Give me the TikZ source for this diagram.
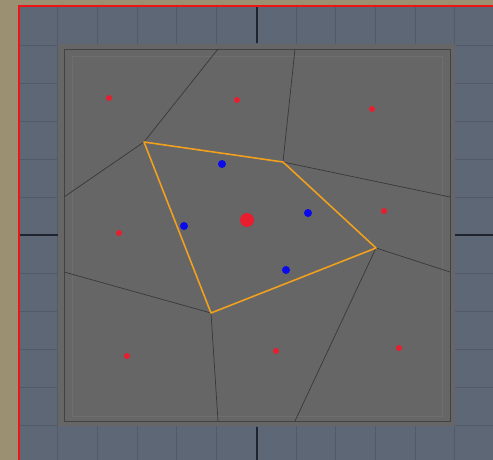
\documentclass[tikz,border=0pt]{standalone}
\usetikzlibrary{positioning}
\definecolor{vdTan}{RGB}{156,144,114}
\definecolor{vdGrid}{RGB}{94,103,118}
\definecolor{vdGridLine}{RGB}{82,90,104}
\definecolor{vdAxis}{RGB}{32,36,46}
\definecolor{vdFloor}{RGB}{102,102,102}
\definecolor{vdRim}{RGB}{66,66,66}
\definecolor{vdEdge}{RGB}{56,56,56}
\definecolor{vdCell}{RGB}{240,160,30}
\definecolor{vdSite}{RGB}{232,30,48}
\definecolor{vdSample}{RGB}{10,10,235}
\definecolor{vdFrame}{RGB}{236,20,20}

\begin{document}
\begin{tikzpicture}[
  x=1pt, y=-1pt,
  g/.style={draw=vdGridLine, line width=0.8pt},
  ax/.style={draw=vdAxis, line width=1.6pt},
  e/.style={draw=vdEdge, line width=0.7pt},
  o/.style={draw=vdCell, line width=1.6pt, line join=round},
  s/.style={circle, fill=vdSite, inner sep=0pt, minimum size=6pt},
  b/.style={circle, fill=vdSample, inner sep=0pt, minimum size=8pt},
  c/.style={circle, fill=vdSite, inner sep=0pt, minimum size=14pt}
]
\useasboundingbox (0,0) rectangle (493,460);
\fill[vdTan] (0,0) rectangle (493,460);
% grid plate
\fill[vdGrid] (19,6) rectangle (493,460);
\foreach \i in {1,...,11} \draw[g] ({18+39.7*\i},6) -- ++(0,454);
\foreach \j in {-5,...,5} \draw[g] (19,{235+38*\j}) -- ++(474,0);
% floor
\fill[vdFloor] (58,44) rectangle (455,426);
\draw[vdRim, line width=0.8pt] (64,49) rectangle (450,421);
\draw[vdFloor!95!white, line width=0.5pt] (72,56) rectangle (442,416);
% axes
\draw[ax] (257,6) -- (257,43);
\draw[ax] (257,427) -- (257,460);
\draw[ax] (19,235) -- (58,235);
\draw[ax] (455,235) -- (493,235);
\draw[vdFrame, line width=2pt] (19,6) rectangle (493.5,460.5);
% cell corners and border points
\coordinate (A) at (144,142);
\coordinate (B) at (283,162);
\coordinate (C) at (376,248);
\coordinate (D) at (211,313);
\coordinate (At) at (218,49);
\coordinate (Al) at (64,197);
\coordinate (Bt) at (295,49);
\coordinate (Br) at (450,197);
\coordinate (Cr) at (450,272);
\coordinate (Cb) at (295,421);
\coordinate (Db) at (218,421);
\coordinate (Dl) at (64,272);
\draw[e] (At) -- (A) -- (Al);
\draw[e] (Bt) -- (B) -- (Br);
\draw[e] (Cr) -- (C) -- (Cb);
\draw[e] (Db) -- (D) -- (Dl);
\draw[o] (A) -- (B) -- (C) -- (D) -- cycle;
% sites
\node[s] (s1) at (109,98) {};
\node[s] (s2) at (237,100) {};
\node[s] (s3) at (372,109) {};
\node[s] (s4) at (384,211) {};
\node[s] (s5) at (119,233) {};
\node[s] (s6) at (127,356) {};
\node[s] (s7) at (276,351) {};
\node[s] (s8) at (399,348) {};
\node[b] (b1) at (222,164) {};
\node[b] (b2) at (184,226) {};
\node[b] (b3) at (308,213) {};
\node[b] (b4) at (286,270) {};
\node[c] (ctr) at (247,220) {};
\end{tikzpicture}
\end{document}
